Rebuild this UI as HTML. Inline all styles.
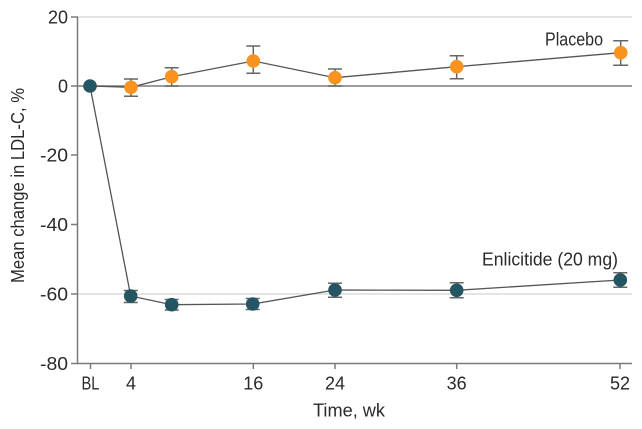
<!DOCTYPE html>
<html><head><meta charset="utf-8"><style>
html,body{margin:0;padding:0;background:#fff;}
svg{display:block;}
text{font-family:"Liberation Sans",sans-serif;fill:#2a2a2a;}
</style></head><body>
<svg width="642" height="429" viewBox="0 0 642 429" xmlns="http://www.w3.org/2000/svg">
<!-- gridlines -->
<line x1="78" y1="17" x2="632" y2="17" stroke="#dcdcdc" stroke-width="1.5"/>
<line x1="78" y1="294" x2="632" y2="294" stroke="#dcdcdc" stroke-width="1.5"/>
<line x1="78" y1="86" x2="632" y2="86" stroke="#7a7a7a" stroke-width="1.5"/>
<!-- axes -->
<line x1="77.5" y1="17" x2="77.5" y2="364" stroke="#7a7a7a" stroke-width="1.5"/>
<line x1="77" y1="363.5" x2="632" y2="363.5" stroke="#7a7a7a" stroke-width="1.5"/>
<!-- ticks -->
<g stroke="#7a7a7a" stroke-width="1.5">
<line x1="71" y1="17" x2="78" y2="17"/>
<line x1="71" y1="86" x2="78" y2="86"/>
<line x1="71" y1="155" x2="78" y2="155"/>
<line x1="71" y1="224.5" x2="78" y2="224.5"/>
<line x1="71" y1="294" x2="78" y2="294"/>
<line x1="71" y1="363.5" x2="78" y2="363.5"/>
<line x1="90.5" y1="363" x2="90.5" y2="369"/>
<line x1="131" y1="363" x2="131" y2="369"/>
<line x1="253.3" y1="363" x2="253.3" y2="369"/>
<line x1="335" y1="363" x2="335" y2="369"/>
<line x1="456.7" y1="363" x2="456.7" y2="369"/>
<line x1="620" y1="363" x2="620" y2="369"/>
</g>
<!-- y tick labels -->
<g font-size="18" text-anchor="end">
<text x="68" y="23.5">20</text>
<text x="68" y="92.5">0</text>
<text x="68" y="161.5" textLength="28" lengthAdjust="spacingAndGlyphs">-20</text>
<text x="68" y="231" textLength="28" lengthAdjust="spacingAndGlyphs">-40</text>
<text x="68" y="300.5" textLength="28" lengthAdjust="spacingAndGlyphs">-60</text>
<text x="68" y="370" textLength="28" lengthAdjust="spacingAndGlyphs">-80</text>
</g>
<!-- x tick labels -->
<g font-size="18" text-anchor="middle">
<text x="90.5" y="389.5" textLength="18" lengthAdjust="spacingAndGlyphs">BL</text>
<text x="131" y="389.5">4</text>
<text x="253.3" y="389.5">16</text>
<text x="335" y="389.5">24</text>
<text x="456.7" y="389.5">36</text>
<text x="620" y="389.5">52</text>
</g>
<text x="349" y="416.5" font-size="18" text-anchor="middle" textLength="72" lengthAdjust="spacingAndGlyphs">Time, wk</text>
<text transform="translate(24,185.5) rotate(-90)" font-size="18" text-anchor="middle" textLength="195" lengthAdjust="spacingAndGlyphs">Mean change in LDL-C, %</text>
<!-- series labels -->
<text x="545" y="45.5" font-size="18" textLength="58" lengthAdjust="spacingAndGlyphs">Placebo</text>
<text x="482" y="265.5" font-size="18" textLength="136" lengthAdjust="spacingAndGlyphs">Enlicitide (20 mg)</text>
<!-- placebo line -->
<polyline points="90,86 131,87.3 171.7,76.7 253.3,61 335,77.7 456.7,66.7 620.7,52.7" fill="none" stroke="#555" stroke-width="1.3"/>
<!-- enlicitide line -->
<polyline points="90,86 130.7,296 171.7,304.7 252.7,304 335,290 456.7,290.3 620.3,280" fill="none" stroke="#555" stroke-width="1.3"/>
<!-- placebo error bars -->
<g stroke="#666" stroke-width="1.5" fill="none">
<path d="M131 79V96.3M124 79H138M124 96.3H138"/>
<path d="M171.7 67.7V86M164.7 67.7H178.7M164.7 86H178.7"/>
<path d="M253.3 46V73.3M246.3 46H260.3M246.3 73.3H260.3"/>
<path d="M335 69V86M328 69H342M328 86H342"/>
<path d="M456.7 55.7V78.7M449.7 55.7H463.7M449.7 78.7H463.7"/>
<path d="M620.7 40.7V65.3M613.2 40.7H628.2M613.2 65.3H628.2"/>
</g>
<!-- enlicitide error bars -->
<g stroke="#666" stroke-width="1.5" fill="none">
<path d="M130.7 290.5V302.5M123.7 290.5H137.7M123.7 302.5H137.7"/>
<path d="M171.7 299.5V310M164.7 299.5H178.7M164.7 310H178.7"/>
<path d="M252.7 298.5V309.5M245.7 298.5H259.7M245.7 309.5H259.7"/>
<path d="M335 283.3V297.3M328 283.3H342M328 297.3H342"/>
<path d="M456.7 282.7V297.7M449.7 282.7H463.7M449.7 297.7H463.7"/>
<path d="M620.3 272.7V287.3M613.3 272.7H627.3M613.3 287.3H627.3"/>
</g>
<!-- placebo points -->
<g fill="#F7931E">
<circle cx="131" cy="87.3" r="6.8"/>
<circle cx="171.7" cy="76.7" r="6.8"/>
<circle cx="253.3" cy="61" r="6.8"/>
<circle cx="335" cy="77.7" r="6.8"/>
<circle cx="456.7" cy="66.7" r="6.8"/>
<circle cx="620.7" cy="52.7" r="6.8"/>
</g>
<!-- enlicitide points -->
<g fill="#245563">
<circle cx="90" cy="86" r="6.8"/>
<circle cx="130.7" cy="296" r="6.8"/>
<circle cx="171.7" cy="304.7" r="6.8"/>
<circle cx="252.7" cy="304" r="6.8"/>
<circle cx="335" cy="290" r="6.8"/>
<circle cx="456.7" cy="290.3" r="6.8"/>
<circle cx="620.3" cy="280" r="6.8"/>
</g>
</svg>
</body></html>
